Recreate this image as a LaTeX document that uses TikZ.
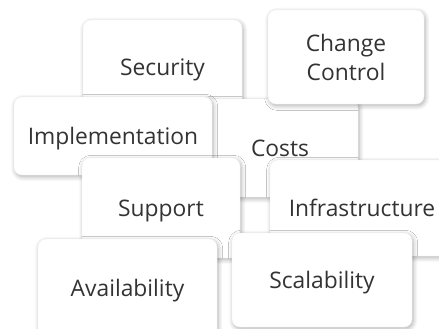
\documentclass[tikz,border=0pt]{standalone}
\usepackage{fontspec}
\setmainfont{Open Sans}
\usetikzlibrary{shadows.blur}
\definecolor{txt}{HTML}{333333}
\tikzset{
  card/.style={draw=black!5, line width=0.4pt, fill=white, rounded corners=8pt,
    inner sep=0pt, text=txt, align=center, text depth=0pt,
    font=\fontsize{22.8}{29}\selectfont,
    blur shadow={shadow xshift=1.2pt, shadow yshift=-1.8pt, shadow blur radius=4.5pt,
      shadow blur steps=8, shadow opacity=32}}
}
\begin{document}
\begin{tikzpicture}[x=1pt,y=-1pt]
\useasboundingbox (0,0) rectangle (439,329);
\clip (0,0) rectangle (439,329);
\node[card, minimum width=159pt, minimum height=94pt] (sec) at (162.5,67) {Security};
\node[card, minimum width=156pt, minimum height=98pt] (costs) at (280,148) {Costs};
\node[card, minimum width=156pt, minimum height=94pt] (cc) at (346,57) {Change\\Control};
\node[card, minimum width=198pt, minimum height=78pt] (impl) at (113,136) {Implementation};
\node[card, minimum width=158pt, minimum height=100pt] (sup) at (161,208) {Support};
\node[card, minimum width=184pt, minimum height=96pt] (infra) at (362,208) {Infrastructure};
\node[card, minimum width=179pt, minimum height=98pt] (avail) at (127.5,288) {Availability};
\node[card, minimum width=180pt, minimum height=94pt] (scal) at (322,280) {Scalability};
\end{tikzpicture}
\end{document}
